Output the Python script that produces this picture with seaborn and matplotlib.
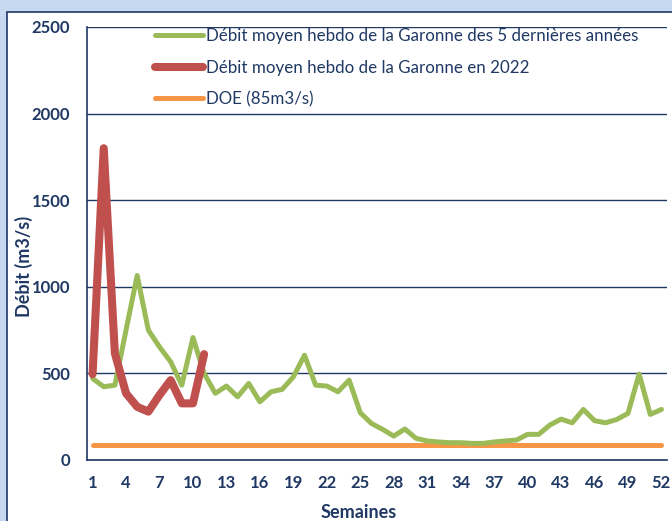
import numpy as np
import pandas as pd

import matplotlib.pyplot as plt
import matplotlib.patches as patches
import seaborn as sns

# weekly flow of the Garonne (m3/s)
weeks = list(range(1, 53))
debit_5ans = [471, 423, 432, 750, 1065, 750, 653, 567, 432, 707,
              500, 385, 427, 365, 442, 336, 394, 408, 480, 605,
              432, 427, 394, 461, 273, 211, 177, 138, 179, 125,
              110, 104, 100, 100, 96, 96, 104, 110, 115, 148,
              148, 202, 236, 215, 292, 227, 215, 234, 269, 496,
              263, 292]
weeks_2022 = list(range(1, 12))
debit_2022 = [496, 1800, 615, 385, 307, 279, 375, 461, 327, 327, 611]
doe = [85] * 52

label_5ans = 'Débit moyen hebdo de la Garonne des 5 dernières années'
label_2022 = 'Débit moyen hebdo de la Garonne en 2022'
label_doe = 'DOE (85m3/s)'

navy = '#1f3864'

sns.set_style('white')
plt.rcParams['font.family'] = ['Lato', 'DejaVu Sans']

fig = plt.figure(figsize=(6.72, 5.21), dpi=100)
fig.patch.set_facecolor('#c6d9f1')
# white panel with a dark frame, behind the axes
fig.patches.append(patches.Rectangle((7 / 672, -0.01), 1, 1 - 12 / 521 + 0.01, transform=fig.transFigure,
                                     facecolor='white', edgecolor=navy, linewidth=1.2, zorder=-5))

ax = fig.add_axes([87 / 672, 1 - 460 / 521, 580 / 672, 433 / 521])
ax.set_facecolor('white')

df_5ans = pd.DataFrame({'semaine': weeks, 'debit': debit_5ans})
df_2022 = pd.DataFrame({'semaine': weeks_2022, 'debit': debit_2022})
df_doe = pd.DataFrame({'semaine': weeks, 'debit': doe})

sns.lineplot(data=df_5ans, x='semaine', y='debit', ax=ax, color='#9bbb59', linewidth=3.6,
             label=label_5ans, zorder=3)
sns.lineplot(data=df_2022, x='semaine', y='debit', ax=ax, color='#c0504d', linewidth=5.8,
             label=label_2022, zorder=4, solid_capstyle='round', solid_joinstyle='round')
sns.lineplot(data=df_doe, x='semaine', y='debit', ax=ax, color='#f79646', linewidth=3.6,
             label=label_doe, zorder=2, solid_capstyle='round')

ax.set_xlim(0.5, 52.5)
ax.set_ylim(0, 2500)
ax.set_yticks(np.arange(0, 2501, 500))
ax.yaxis.grid(True, color=navy, linewidth=1.0)
ax.set_axisbelow(True)

ax.set_xticks(weeks[::3])
ax.set_xticks(np.arange(0.5, 53, 2), minor=True)
ax.tick_params(axis='x', which='major', length=0, pad=11)
ax.tick_params(axis='x', which='minor', length=5, width=1.2, color=navy, direction='out')
ax.tick_params(axis='y', length=0, pad=12)
for lab in ax.get_xticklabels() + ax.get_yticklabels():
    lab.set_fontweight('bold')
    lab.set_fontsize(12)
    lab.set_color(navy)

for side in ['top', 'right']:
    ax.spines[side].set_visible(False)
for side in ['left', 'bottom']:
    ax.spines[side].set_color(navy)
    ax.spines[side].set_linewidth(1.2)

ax.set_xlabel('Semaines', fontsize=13, fontweight='bold', color=navy, va='baseline')
ax.set_ylabel('Débit (m3/s)', fontsize=13, fontweight='bold', color=navy)
ax.xaxis.set_label_coords(0.469, -0.133)
ax.yaxis.set_label_coords(-0.093, 0.447)

leg = ax.legend(loc='upper left', bbox_to_anchor=(155 / 672, 1 - 28 / 521), bbox_transform=fig.transFigure,
                frameon=False, fontsize=12.2, handlelength=2.85, handletextpad=0.18, labelspacing=0.92,
                borderpad=0, borderaxespad=0)
for t in leg.get_texts():
    t.set_color(navy)

fig.savefig('out.png', dpi=100, facecolor=fig.get_facecolor())
